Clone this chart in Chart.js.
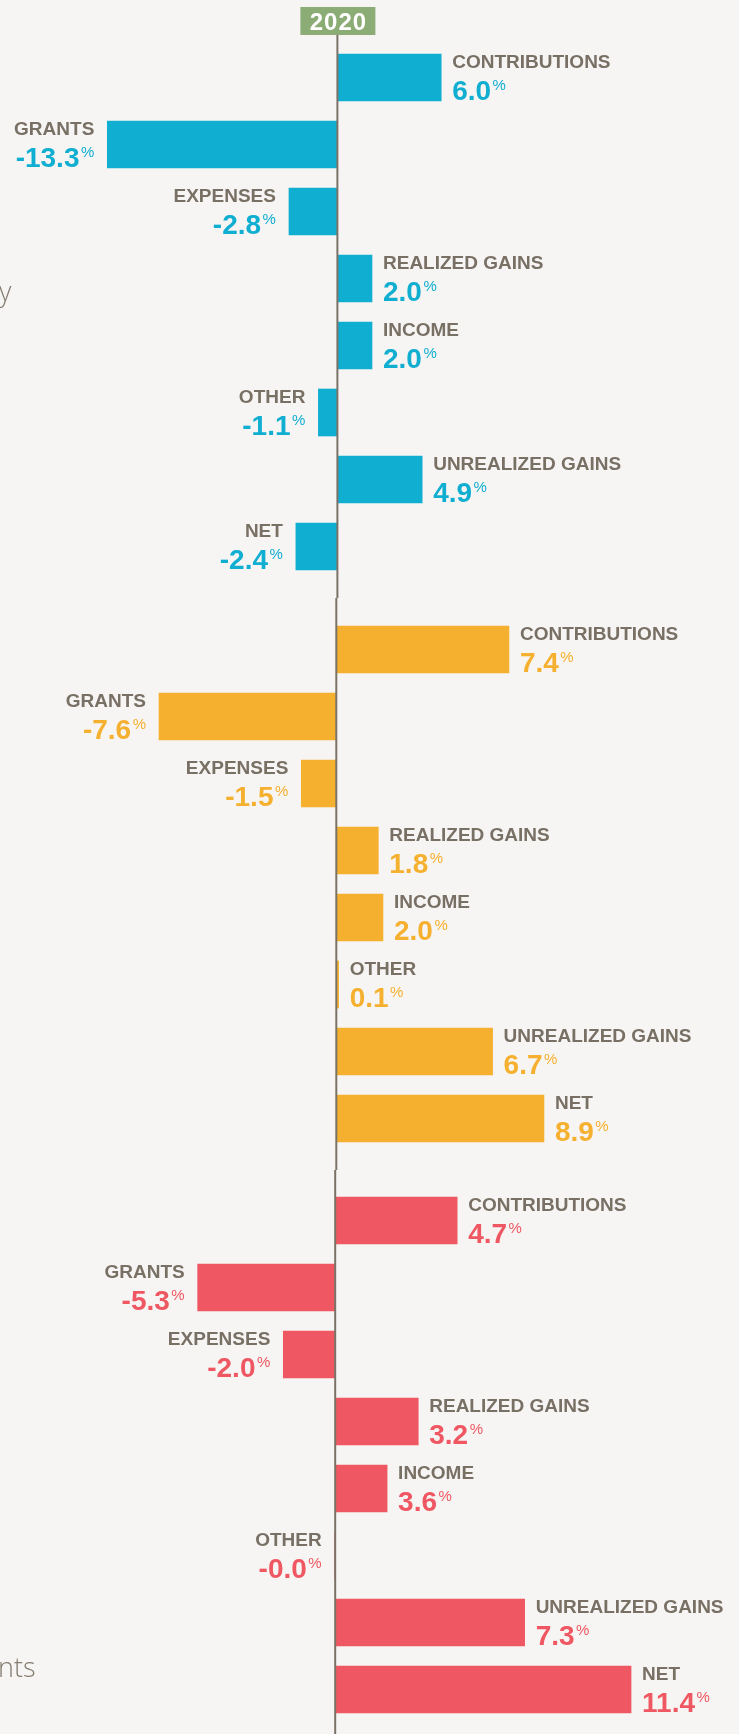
<!DOCTYPE html>
<html>
<head>
<meta charset="utf-8">
<title>2020</title>
<script src="https://cdn.jsdelivr.net/npm/chart.js@4.4.1/dist/chart.umd.min.js"></script>
<style>
  body { margin: 0; background: #f7f5f3; }
  #wrap { position: relative; width: 739px; height: 1734px; overflow: hidden; background: #f7f5f3; }
  canvas { display: block; }
  .side {
    position: absolute;
    font-family: "Open Sans", sans-serif;
    font-weight: 300;
    font-size: 27px;
    line-height: 1;
    color: #857c71;
    white-space: nowrap;
  }
</style>
</head>
<body>
<div id="wrap">
  <canvas id="panel0" width="739" height="598"></canvas>
  <canvas id="panel1" width="739" height="572"></canvas>
  <canvas id="panel2" width="739" height="564"></canvas>
  <span class="side" style="left:-1px; top:277px;">y</span>
  <span class="side" style="left:-2px; top:1653px;">nts</span>
</div>

<script>
// Data
const categories = ['CONTRIBUTIONS', 'GRANTS', 'EXPENSES', 'REALIZED GAINS', 'INCOME', 'OTHER', 'UNREALIZED GAINS', 'NET'];
const blueValues = [6.0, -13.3, -2.8, 2.0, 2.0, -1.1, 4.9, -2.4];
const orangeValues = [7.4, -7.6, -1.5, 1.8, 2.0, 0.1, 6.7, 8.9];
const redValues = [4.7, -5.3, -2.0, 3.2, 3.6, -0.02, 7.3, 11.4];
// the source draws the red INCOME bar only ~2.0 long although it prints 3.6
const redBars = [4.7, -5.3, -2.0, 3.2, 2.0, -0.02, 7.3, 11.4];
const yearLabel = '2020';

const panelValues = [blueValues, orangeValues, redValues];
const panelBars = [blueValues, orangeValues, redBars];
const panelColors = ['#10aed1', '#f5b02f', '#ef5862'];

// each panel has its own scale: where zero sits and how many px per percent
const zeroPx = [337.4, 336.3, 335.2];
const pxPerPct = [17.3, 23.33, 25.95];
const panelPadding = [
    { top: 44, bottom: 18 },
    { top: 18, bottom: 18 },
    { top: 17, bottom: 11 }
];

const LABEL_COLOR = '#797065';
const AXIS_COLOR = '#7a7266';
const FONT = '"Liberation Sans", Arial, sans-serif';

// zero line (and the year tag on the first panel)
const axisPlugin = {
    id: 'zeroAxis',
    afterDatasetsDraw(chart, args, opts) {
        const ctx = chart.ctx;
        const zx = chart.scales.x.getPixelForValue(0);
        ctx.save();
        ctx.strokeStyle = AXIS_COLOR;
        ctx.lineWidth = 2;
        ctx.beginPath();
        ctx.moveTo(zx, opts.lineTop || 0);
        ctx.lineTo(zx, chart.height);
        ctx.stroke();

        if (opts.tag) {
            ctx.fillStyle = '#8cac76';
            ctx.fillRect(zx - 37, 7, 75, 28);
            ctx.fillStyle = '#ffffff';
            ctx.font = 'bold 24px ' + FONT;
            ctx.textAlign = 'center';
            ctx.textBaseline = 'alphabetic';
            ctx.letterSpacing = '1px';
            ctx.fillText(opts.tag, zx + 1, 29.5);
        }
        ctx.restore();
    }
};

// category name + value with small % next to each bar
const labelPlugin = {
    id: 'barLabels',
    afterDatasetsDraw(chart, args, opts) {
        const ctx = chart.ctx;
        const ds = chart.data.datasets[0];
        const meta = chart.getDatasetMeta(0);

        ctx.save();
        ctx.textBaseline = 'alphabetic';
        meta.data.forEach((bar, i) => {
            const v = opts.printed[i];
            const neg = v < 0;
            const top = bar.y - bar.height / 2;
            const bottom = bar.y + bar.height / 2;
            const x = neg ? bar.x - 13 : bar.x + 11;

            // name
            ctx.font = 'bold 19px ' + FONT;
            ctx.fillStyle = LABEL_COLOR;
            ctx.textAlign = neg ? 'right' : 'left';
            ctx.fillText(chart.data.labels[i], x, top + 13.5);

            // value
            const txt = v.toFixed(1);
            ctx.font = 'bold 28px ' + FONT;
            const w = ctx.measureText(txt).width;
            ctx.font = '15px ' + FONT;
            const pw = ctx.measureText('%').width;
            const total = w + 1.5 + pw;
            const startX = neg ? x - total : x;

            ctx.textAlign = 'left';
            ctx.fillStyle = ds.backgroundColor;
            ctx.font = 'bold 28px ' + FONT;
            ctx.fillText(txt, startX, bottom - 1.5);
            ctx.font = '15px ' + FONT;
            ctx.fillText('%', startX + w + 1.5, bottom - 11.5);
        });
        ctx.restore();
    }
};

function makePanel(idx) {
    const canvas = document.getElementById('panel' + idx);
    const width = canvas.width;
    const z = zeroPx[idx];
    const p = pxPerPct[idx];

    return new Chart(canvas.getContext('2d'), {
        type: 'bar',
        data: {
            labels: categories,
            datasets: [{
                data: panelBars[idx],
                backgroundColor: panelColors[idx],
                borderWidth: 0,
                barThickness: 47
            }]
        },
        options: {
            indexAxis: 'y',
            responsive: false,
            animation: false,
            devicePixelRatio: 1,
            layout: { padding: { left: 0, right: 0, top: panelPadding[idx].top, bottom: panelPadding[idx].bottom } },
            scales: {
                x: { display: false, min: -z / p, max: (width - z) / p },
                y: { display: false }
            },
            plugins: {
                legend: { display: false },
                tooltip: { enabled: false },
                zeroAxis: idx === 0 ? { lineTop: 35, tag: yearLabel } : { lineTop: 0 },
                barLabels: { printed: panelValues[idx] }
            }
        },
        plugins: [axisPlugin, labelPlugin]
    });
}

document.addEventListener('DOMContentLoaded', () => {
    panelValues.forEach((_, i) => makePanel(i));
});
</script>
</body>
</html>
